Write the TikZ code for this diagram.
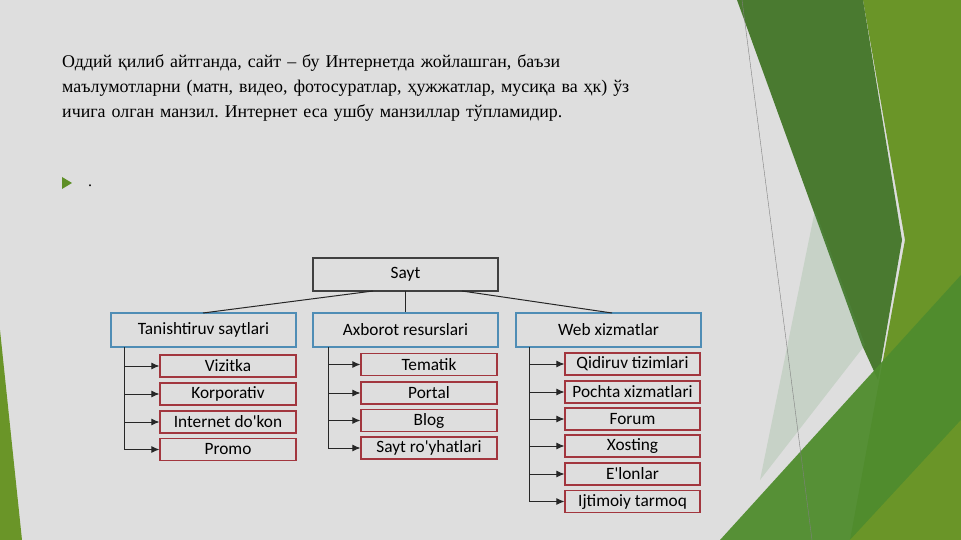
\documentclass[tikz,border=0pt]{standalone}
\usepackage{fontspec}
\usetikzlibrary{arrows.meta}
\setmainfont{Liberation Serif}
\newfontfamily\carlitofont{Carlito}
\begin{document}
\begin{tikzpicture}[x=1pt,y=-1pt,
  box/.style={draw=black!75,line width=1.1pt,fill=bggray,inner sep=0pt,font=\carlitofont\fontsize{17.3}{18}\selectfont},
  lvl/.style={box,draw=bluebd},
  leaf/.style={box,draw=redbd},
  conn/.style={draw=black!85,line width=1pt},
  arr/.style={conn,-{Latex[length=8pt,width=7pt]}}]
\definecolor{bggray}{HTML}{DEDEDE}
\definecolor{bluebd}{HTML}{4F8DB5}
\definecolor{redbd}{HTML}{A2363E}
\definecolor{gdark}{HTML}{4A7A30}
\definecolor{gmid}{HTML}{5E8F26}
\definecolor{glight}{HTML}{6A9528}
\definecolor{gbot}{HTML}{4F8C2E}
\useasboundingbox (0,0) rectangle (961,540);
\fill[bggray] (0,0) rectangle (961,540);
% decorations
\fill[glight] (863,0) -- (961,0) -- (961,540) -- (850,540) -- (905,240) -- cycle;
\fill[gdark] (737,0) -- (863,0) -- (902,240) -- (878,380) -- (862,345) -- cycle;
\fill[green!25!gray, opacity=0.18] (760,480) -- (815,210) -- (865,345) -- cycle;
\fill[gbot, opacity=0.95] (720,540) -- (961,275) -- (961,540) -- cycle;
\fill[glight] (850,540) -- (961,420) -- (961,540) -- cycle;
\draw[gray, line width=0.4pt] (742,0) -- (812,540);
\fill[glight] (0,330) -- (22,540) -- (0,540) -- cycle;
% text
\node[anchor=north west, align=left, inner sep=0pt, text width=600pt, font=\frenchspacing\fontsize{17.9}{25}\selectfont] (para) at (62,54)
 {Оддий қилиб айтганда, сайт – бу Интернетда жойлашган, баъзи\\ маълумотларни (матн, видео, фотосуратлар, ҳужжатлар, мусиқа ва ҳк) ўз\\ ичига олган манзил. Интернет еса ушбу манзиллар тўпламидир.};
\fill[gmid] (62,177) -- (72,183) -- (62,189) -- cycle;
\node[anchor=west, inner sep=0pt, font=\fontsize{16}{18}\selectfont] (dot) at (88,186) {.};
% diagram
\node[box, minimum width=185pt, minimum height=33pt] (sayt) at (405.5,274.5) {Sayt};
\node[lvl, minimum width=185pt, minimum height=34pt] (tan) at (203.5,330) {Tanishtiruv saytlari};
\node[lvl, minimum width=185pt, minimum height=34pt] (axb) at (405.5,330) {Axborot resurslari};
\node[lvl, minimum width=185pt, minimum height=34pt] (web) at (608.5,330) {Web xizmatlar};
\draw[conn] (373,291) -- (203,313);
\draw[conn] (405.5,291) -- (axb.north);
\draw[conn] (462,291) -- (612,313);
\foreach \n/\t/\y in {l1/Vizitka/366, l2/Korporativ/394, l3/Internet do'kon/422, l4/Promo/449.5}
  \node[leaf, minimum width=136pt, minimum height=22pt] (\n) at (228,\y) {\t};
\foreach \n/\t/\y in {m1/Tematik/364.5, m2/Portal/393, m3/Blog/420.5, m4/Sayt ro'yhatlari/448}
  \node[leaf, minimum width=136pt, minimum height=22pt] (\n) at (429,\y) {\t};
\foreach \n/\t/\y in {r1/Qidiruv tizimlari/364, r2/Pochta xizmatlari/392, r3/Forum/419, r4/Xosting/446, r5/E'lonlar/474, r6/Ijtimoiy tarmoq/501.5}
  \node[leaf, minimum width=135pt, minimum height=22pt] (\n) at (632.5,\y) {\t};
\coordinate (tl) at (124.5,347);
\coordinate (ml) at (328,347);
\coordinate (wl) at (529,347);
\draw[conn] (tl) -- (tl |- l4);
\draw[conn] (ml) -- (ml |- m4);
\draw[conn] (wl) -- (wl |- r6);
\foreach \n in {l1,l2,l3,l4} \draw[arr] (tl |- \n) -- (\n.west);
\foreach \n in {m1,m2,m3,m4} \draw[arr] (ml |- \n) -- (\n.west);
\foreach \n in {r1,r2,r3,r4,r5,r6} \draw[arr] (wl |- \n) -- (\n.west);
\end{tikzpicture}
\end{document}
